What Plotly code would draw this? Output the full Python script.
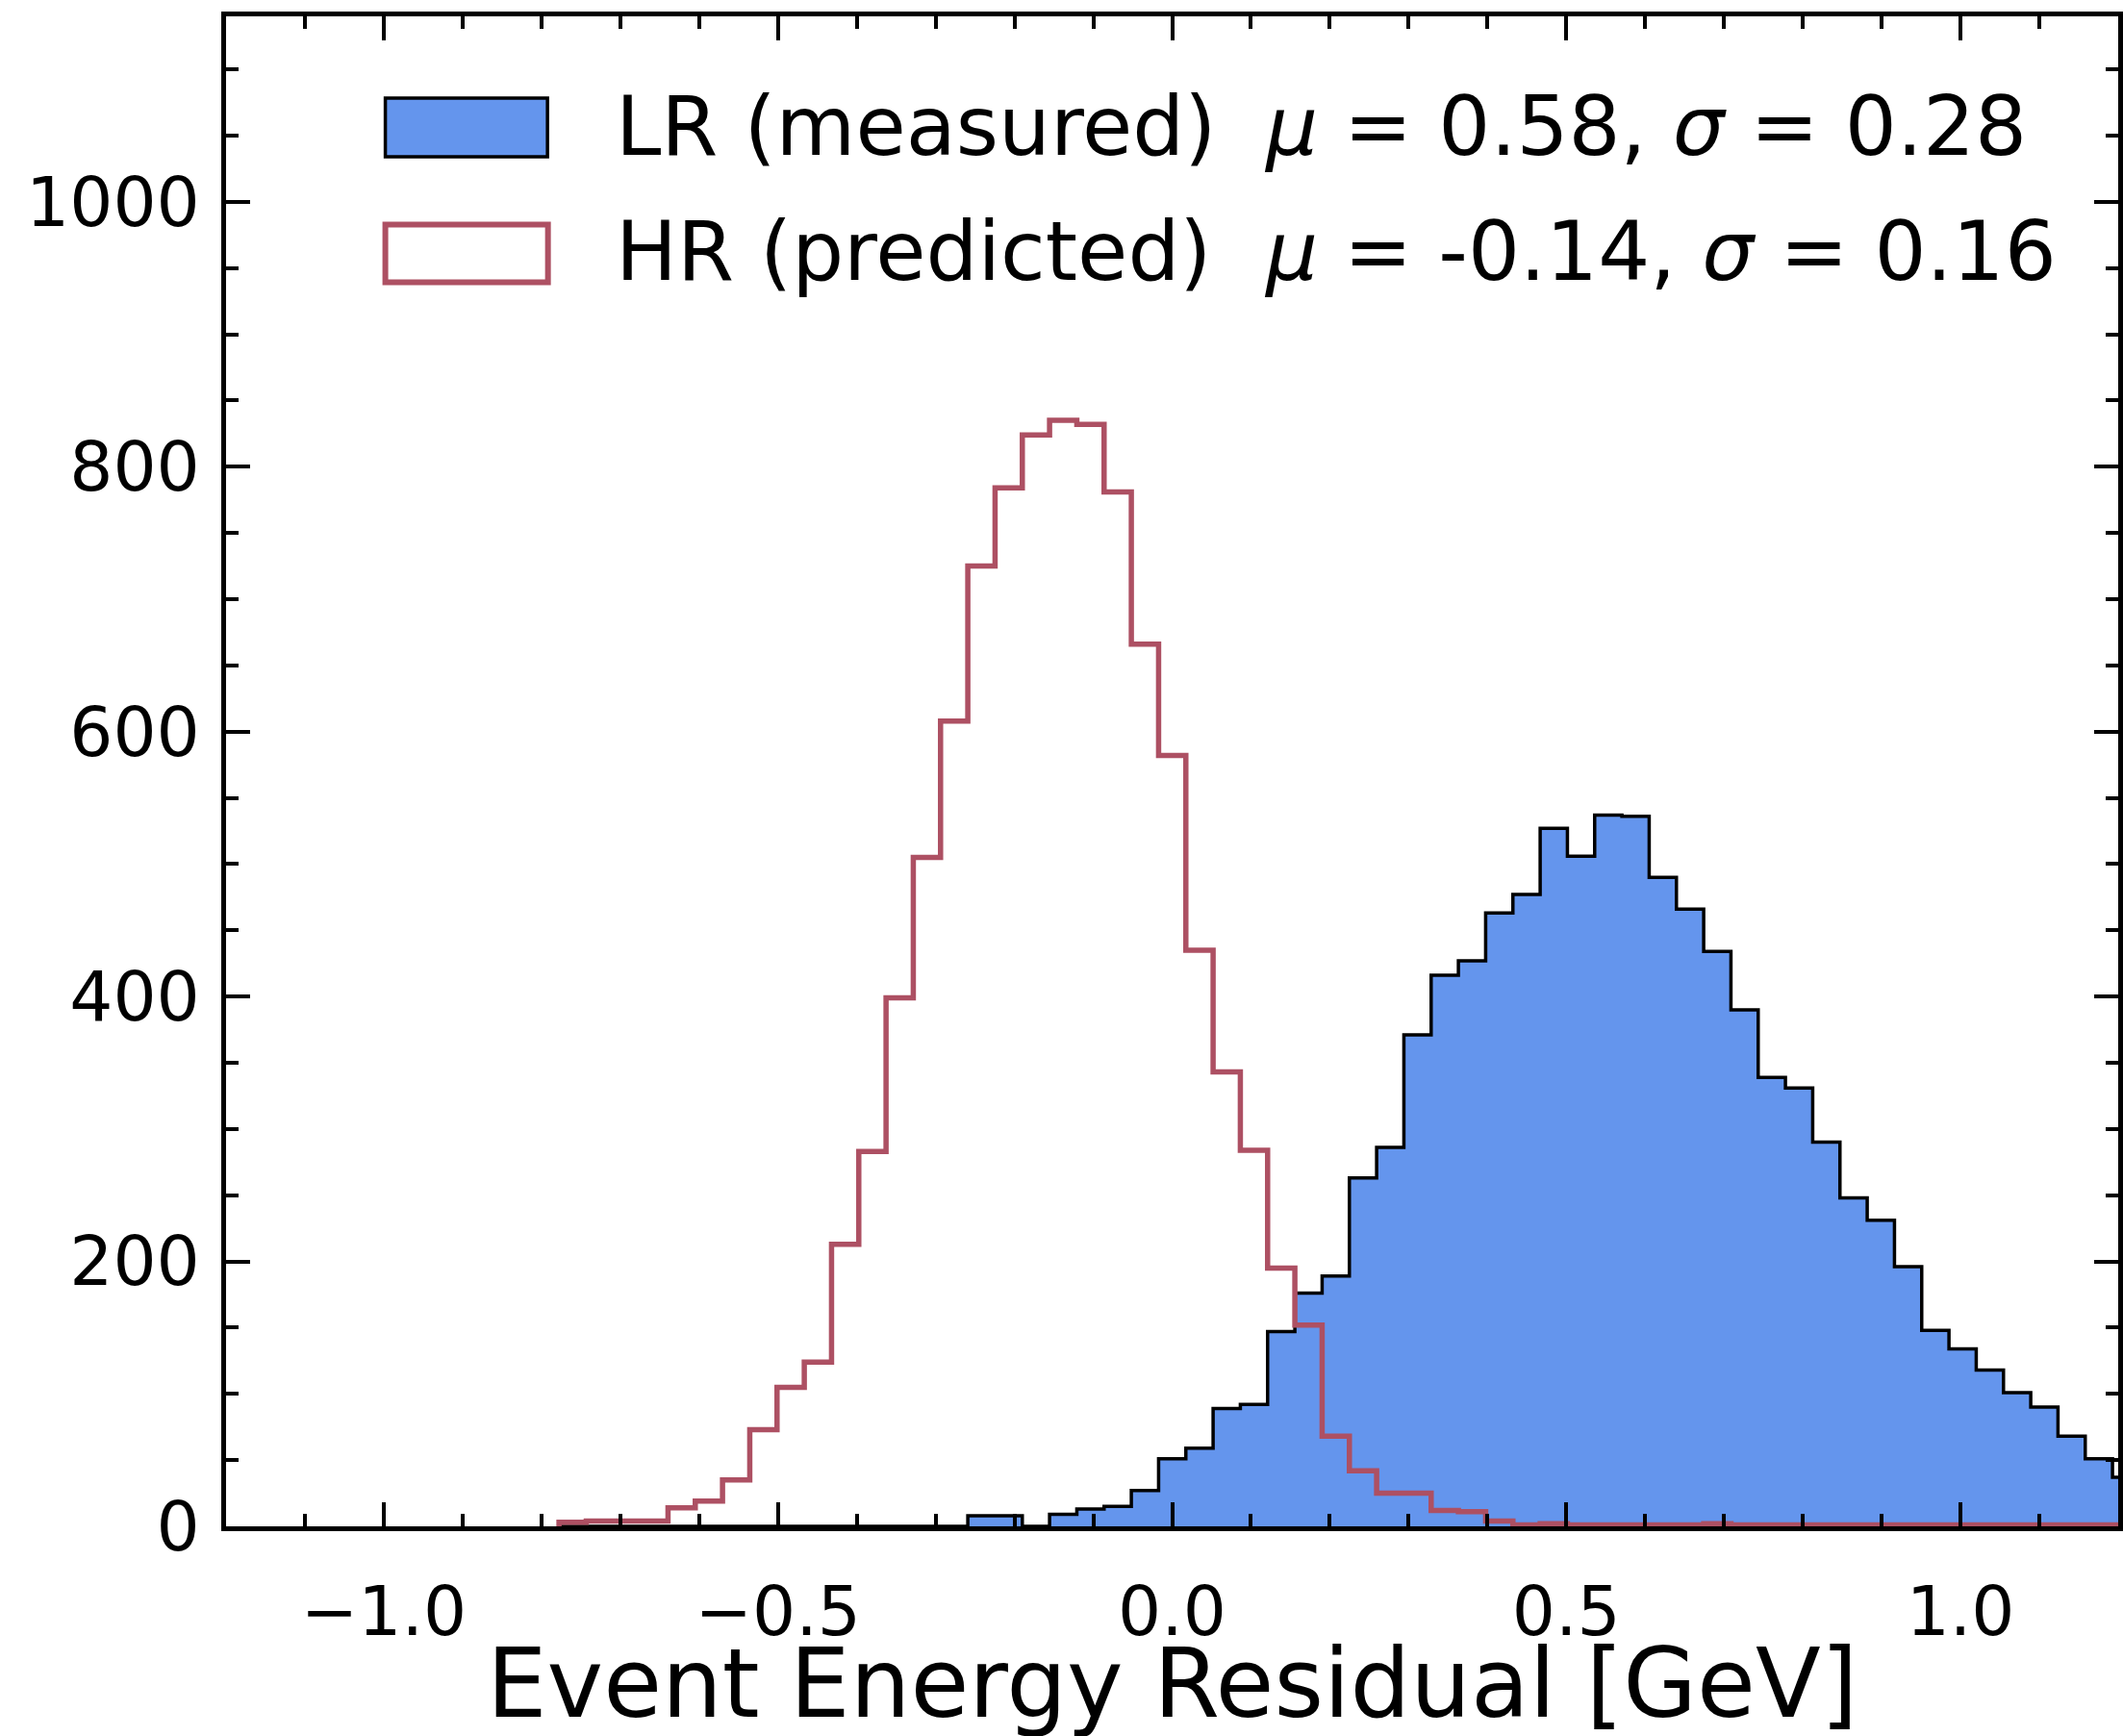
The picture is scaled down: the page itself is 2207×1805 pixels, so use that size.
import numpy as np
import plotly.graph_objects as go

# ---------------- data ----------------
first_edge = -0.7777          # left edge of the first bin [GeV]
bin_width = 0.03457           # common bin width [GeV]

# HR (predicted) counts, one per bin starting at first_edge
hr_counts = [3, 4, 4, 4, 14, 19, 35, 73, 105, 124, 213, 283, 399, 505, 608, 725,
             784, 824, 835, 832, 781, 666, 582, 435, 343, 284, 195, 152, 68, 42,
             25, 25, 12, 11, 4, 1, 2, 1, 1, 1, 1, 1, 2, 1, 1, 1, 1, 1, 1, 1,
             1, 1, 1, 1, 1, 1, 1, 1]

# LR (measured) counts, same bins
lr_counts = [0, 0, 0, 0, 0, 0, 0, 0, 0, 0, 0, 0, 0, 0, 0, 8,
             8, 0, 9, 13, 15, 27, 51, 59, 89, 92, 147, 176, 189, 263,
             286, 371, 416, 427, 463, 477, 527, 506, 537, 536, 490, 466, 434, 390,
             339, 331, 290, 248, 231, 196, 148, 134, 118, 101, 90, 68, 51, 37]

x_tick_vals = [-1.0, -0.5, 0.0, 0.5, 1.0]
y_tick_vals = [0, 200, 400, 600, 800, 1000]

legend_labels = ["LR (measured)", "HR (predicted)"]
legend_stats = ["<i>μ</i> = 0.58, <i>σ</i> = 0.28", "<i>μ</i> = -0.14, <i>σ</i> = 0.16"]
x_title = "Event Energy Residual [GeV]"

# ---------------- helpers ----------------
def step_xy(counts):
    edges = first_edge + bin_width * np.arange(len(counts) + 1)
    xs = [edges[0]] + list(edges[:-1]) + [edges[-1]]
    ys = [0] + list(counts) + [0]
    return xs, ys

W, H = 2207, 1805
L, R, T, B = 235, 2207, 17, 1587


def px_x(p):
    return (p - L) / (R - L)


def px_y(p):
    return (B - p) / (B - T)


FONT = "DejaVu Sans"
BLUE = "#6495ED"
RED = "#AD5063"

fig = go.Figure()

xb, yb = step_xy(lr_counts)
fig.add_trace(go.Scatter(x=xb, y=yb, mode="lines", line_shape="hv",
                         fill="tozeroy", fillcolor=BLUE,
                         line=dict(color="black", width=3.5),
                         showlegend=False, hoverinfo="skip"))

xr, yr = step_xy(hr_counts)
fig.add_trace(go.Scatter(x=xr, y=yr, mode="lines", line_shape="hv",
                         line=dict(color=RED, width=5.5),
                         showlegend=False, hoverinfo="skip"))

axis_common = dict(showline=True, linecolor="black", linewidth=5, mirror="allticks",
                   ticks="inside", ticklen=25, tickwidth=4, tickcolor="black",
                   showgrid=False, zeroline=False,
                   tickfont=dict(family=FONT, size=71, color="black"))

fig.update_xaxes(range=[-1.2, 1.2], tickmode="array", tickvals=x_tick_vals,
                 tickformat=".1f", ticklabelstandoff=23,
                 minor=dict(ticks="inside", ticklen=13, tickwidth=4, tickcolor="black",
                            dtick=0.1, tick0=0, showgrid=False),
                 **axis_common)
fig.update_yaxes(range=[0, 1140], tickmode="array", tickvals=y_tick_vals,
                 ticklabelstandoff=8,
                 minor=dict(ticks="inside", ticklen=13, tickwidth=4, tickcolor="black",
                            dtick=50, tick0=0, showgrid=False),
                 **axis_common)

# manual legend (large patches like matplotlib)
shapes = [
    dict(type="rect", xref="paper", yref="paper",
         x0=px_x(401), x1=px_x(570), y0=px_y(163), y1=px_y(102),
         fillcolor=BLUE, line=dict(color="black", width=3.5)),
    dict(type="rect", xref="paper", yref="paper",
         x0=px_x(401), x1=px_x(570.5), y0=px_y(293.5), y1=px_y(233.5),
         fillcolor="white", line=dict(color=RED, width=6)),
]

annotations = []
row_centers = [131.7, 261.7]
for lab, st, yc in zip(legend_labels, legend_stats, row_centers):
    annotations.append(dict(text=lab, xref="paper", yref="paper", x=px_x(639), y=px_y(yc),
                            xanchor="left", yanchor="middle", showarrow=False,
                            font=dict(family=FONT, size=85, color="black")))
    annotations.append(dict(text=st, xref="paper", yref="paper", x=px_x(1315), y=px_y(yc),
                            xanchor="left", yanchor="middle", showarrow=False,
                            font=dict(family=FONT, size=85, color="black")))

annotations.append(dict(text=x_title, xref="paper", yref="paper", x=0.5, y=px_y(1750),
                        xanchor="center", yanchor="middle", showarrow=False,
                        font=dict(family=FONT, size=99, color="black")))

fig.update_layout(width=W, height=H, margin=dict(l=L, r=W - R, t=T, b=H - B),
                  paper_bgcolor="white", plot_bgcolor="white",
                  shapes=shapes, annotations=annotations, showlegend=False,
                  font=dict(family=FONT))

fig.write_html("out.html")
